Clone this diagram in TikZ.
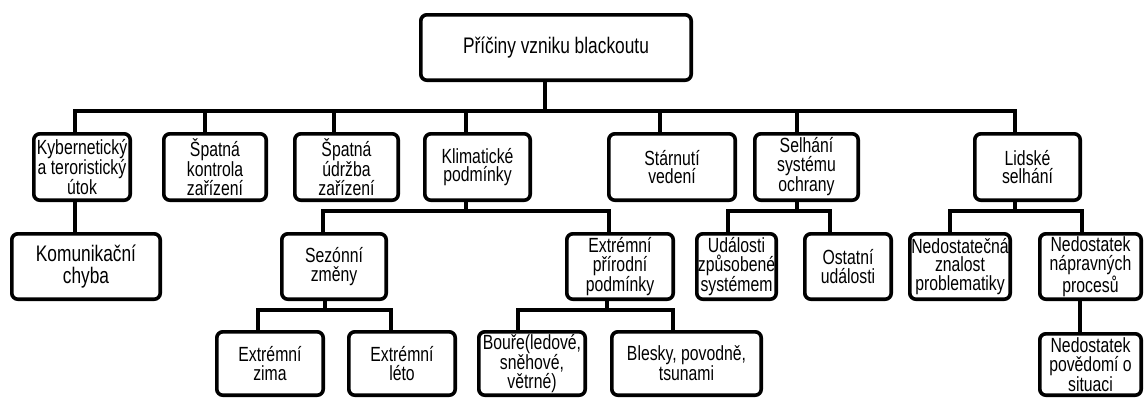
\documentclass[tikz,border=0pt]{standalone}
\usepackage{fontspec}
\setmainfont[FakeStretch=0.77]{Liberation Sans}
\begin{document}
\begin{tikzpicture}[x=1pt,y=-1pt,
  box/.style={draw=black, line width=3.6pt, rounded corners=6pt, inner sep=0pt,
    align=center, text=black, font=\fontsize{20.5}{18.8}\selectfont},
  lone/.style={box, minimum height=66.4pt},
  ltwo/.style={box, minimum height=65.4pt},
  lthree/.style={box, minimum height=63.4pt},
  bigtext/.style={font=\fontsize{22.5}{21.5}\selectfont},
  conn/.style={draw=black, line width=3.6pt}]
\useasboundingbox (0,0) rectangle (1146,399);

% root
\node[box, bigtext, minimum width=270.4pt, minimum height=65.4pt] (root) at (556,47.5) {Příčiny vzniku blackoutu};

% level 1
\node[lone, minimum width=96.4pt]  (kyb) at (82,167)   {Kybernetický\\a teroristický\\útok};
\node[lone, minimum width=102.4pt] (kon) at (215,167)  {Špatná\\kontrola\\zařízení};
\node[lone, minimum width=103.4pt] (udr) at (346.5,167) {Špatná\\údržba\\zařízení};
\node[lone, minimum width=105.4pt] (kli) at (477.5,167) {Klimatické\\podmínky};
\node[lone, minimum width=126.4pt] (sta) at (672,167)  {Stárnutí\\vedení};
\node[lone, minimum width=103.4pt] (sel) at (806.5,167) {Selhání\\systému\\ochrany};
\node[lone, minimum width=105.4pt] (lid) at (1027.5,167) {Lidské\\selhání};

% level 2
\node[ltwo, bigtext, minimum width=148.4pt] (kom) at (86,266.5) {Komunikační\\chyba};
\node[ltwo, minimum width=104.4pt] (sez) at (334,266.5) {Sezónní\\změny};
\node[ltwo, minimum width=106.4pt] (ext) at (620,266.5) {Extrémní\\přírodní\\podmínky};
\node[ltwo, minimum width=79.4pt]  (udal) at (736.5,266.5) {Události\\způsobené\\systémem};
\node[ltwo, minimum width=86.4pt]  (ost) at (848,266.5) {Ostatní\\události};
\node[ltwo, minimum width=100.4pt] (neda) at (960,266.5) {Nedostatečná\\znalost\\problematiky};
\node[ltwo, minimum width=101.4pt] (nedb) at (1090.5,266.5) {Nedostatek\\nápravných\\procesů};

% level 3
\node[lthree, minimum width=106.4pt] (zima) at (270,363.5) {Extrémní\\zima};
\node[lthree, minimum width=106.4pt] (leto) at (402,363.5) {Extrémní\\léto};
\node[lthree, minimum width=106.4pt] (bou)  at (532,363.5) {Bouře(ledové,\\sněhové,\\větrné)};
\node[lthree, minimum width=149.4pt] (bles) at (686.5,363.5) {Blesky, povodně,\\tsunami};
\node[box, minimum width=101.4pt, minimum height=61.4pt] (pov) at (1090.5,364.5) {Nedostatek\\povědomí o\\situaci};

% connectors: root
\draw[conn] (root.south -| 545,0) -- (545,111);
\draw[conn] (kyb.north -| 75,0) -- (75,111) -- (1015,111) -- (lid.north -| 1015,0);
\draw[conn] (kon.north -| 205,0) -- (205,111);
\draw[conn] (udr.north -| 334,0) -- (334,111);
\draw[conn] (kli.north -| 466,0) -- (466,111);
\draw[conn] (sta.north -| 660,0) -- (660,111);
\draw[conn] (sel.north -| 797,0) -- (797,111);

% kyb
\draw[conn] (kyb.south -| 75,0) -- (kom.north -| 75,0);

% klimatické
\draw[conn] (kli.south -| 466,0) -- (466,211);
\draw[conn] (sez.north -| 323,0) -- (323,211) -- (609,211) -- (ext.north -| 609,0);

% selhání
\draw[conn] (sel.south -| 797,0) -- (797,211);
\draw[conn] (udal.north -| 728,0) -- (728,211) -- (830,211) -- (ost.north -| 830,0);

% lidské
\draw[conn] (lid.south -| 1015,0) -- (1015,211);
\draw[conn] (neda.north -| 950,0) -- (950,211) -- (1082,211) -- (nedb.north -| 1082,0);

% sezónní
\draw[conn] (sez.south -| 325,0) -- (325,310);
\draw[conn] (zima.north -| 258,0) -- (258,310) -- (391,310) -- (leto.north -| 391,0);

% extrémní přírodní
\draw[conn] (ext.south -| 607,0) -- (607,310);
\draw[conn] (bou.north -| 518,0) -- (518,310) -- (673,310) -- (bles.north -| 673,0);

% nedostatek nápravných
\draw[conn] (nedb.south -| 1080,0) -- (pov.north -| 1080,0);
\end{tikzpicture}
\end{document}
